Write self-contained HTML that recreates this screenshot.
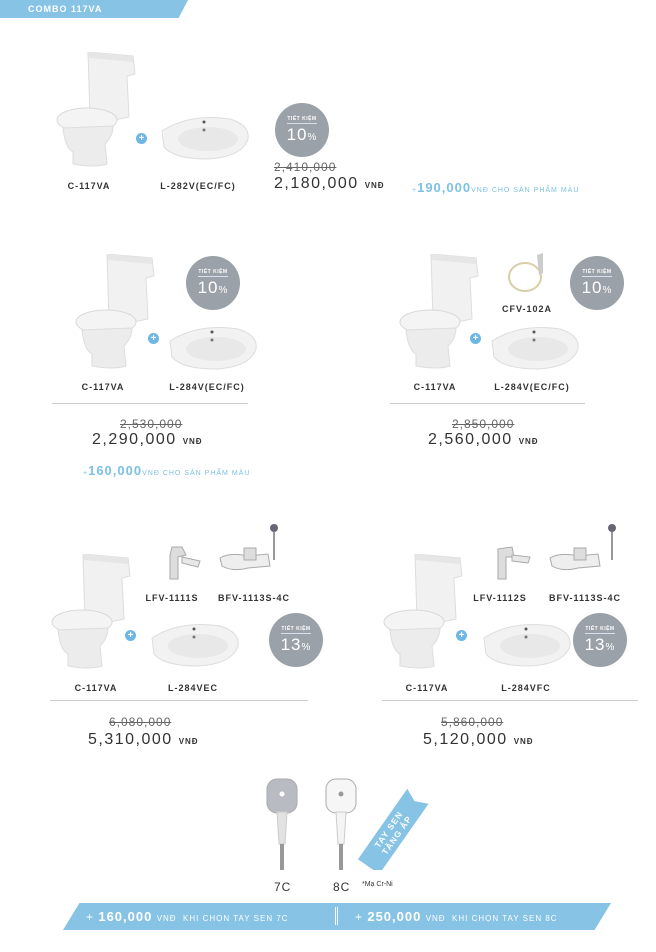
<!DOCTYPE html>
<html><head><meta charset="utf-8">
<style>
*{margin:0;padding:0;box-sizing:border-box}
body{width:656px;height:952px;background:#fff;position:relative;overflow:hidden;font-family:"Liberation Sans",sans-serif;color:#333}
.a{position:absolute;white-space:nowrap}
.lbl{font-size:9px;font-weight:bold;letter-spacing:1px;color:#333;transform:translateX(-50%)}
.strike{font-size:12px;color:#666;letter-spacing:1px;text-decoration:line-through}
.price{font-size:16px;letter-spacing:1.5px;color:#333}
.price small{font-size:8px;font-weight:bold;letter-spacing:1px;margin-left:6px}
.line{height:1px;background:#ccc}
.plus{width:11px;height:11px;border-radius:50%;background:#6cb7e3;color:#fff;font-size:10px;line-height:11px;text-align:center;font-weight:bold}
.badge{width:54px;height:54px;border-radius:50%;background:#9aa1a8;color:#fff;text-align:center}
.badge .t{font-size:5px;font-weight:bold;letter-spacing:.5px;margin-top:13px;border-bottom:1px solid #dde;display:inline-block;padding-bottom:1px}
.badge .p{font-size:17px;font-weight:300;letter-spacing:1px;margin-top:0px}
.badge .p span{font-size:10px}
.extra{color:#7cc1e6;font-size:13px;letter-spacing:1px;font-weight:bold}
.extra small{font-size:7px;letter-spacing:1px;font-weight:normal}
</style></head><body>
<svg width="0" height="0" style="position:absolute">
<defs>
<g id="toilet">
<path d="M33 0 L78 4 L80 22 L72 24 L74 65 L50 70 L35 66 Z" fill="#f1f1f1" stroke="#ddd"/>
<path d="M33 0 L78 4 L78 10 L34 6 Z" fill="#e6e6e6"/>
<ellipse cx="32" cy="68" rx="30" ry="12" fill="#f4f4f4" stroke="#d9d9d9"/>
<path d="M8 76 Q10 96 18 100 L18 112 Q40 116 52 112 L50 92 Q58 84 58 74 Z" fill="#ececec" stroke="#ddd"/>
</g>
<g id="basin">
<path d="M2 18 Q30 0 70 6 Q90 12 88 26 Q82 44 48 46 Q14 46 4 34 Z" fill="#f2f2f2" stroke="#ddd"/>
<ellipse cx="48" cy="26" rx="30" ry="12" fill="#e8e8e8"/>
<circle cx="44" cy="9" r="1.5" fill="#555"/><circle cx="44" cy="17" r="1.5" fill="#777"/>
</g>
</defs>
</svg>

<div class="a" style="left:0;top:0;width:188px;height:18px;background:#86c3e5;border-bottom-right-radius:10px;clip-path:polygon(0 0,100% 0,95% 100%,0 100%)"></div>
<div class="a" style="left:28px;top:4px;color:#fff;font-size:9px;font-weight:bold;letter-spacing:1px">COMBO 117VA</div>

<!-- Section 1 -->
<svg class="a" style="left:55px;top:52px" width="82" height="116"><use href="#toilet"/></svg>
<div class="a plus" style="left:136px;top:133px">+</div>
<svg class="a" style="left:160px;top:113px" width="92" height="48"><use href="#basin"/></svg>
<div class="a lbl" style="left:89px;top:181px">C-117VA</div>
<div class="a lbl" style="left:198px;top:181px">L-282V(EC/FC)</div>
<div class="a badge" style="left:275px;top:103px"><div class="t">TIẾT KIỆM</div><div class="p">10<span>%</span></div></div>
<div class="a strike" style="left:274px;top:160px">2,410,000</div>
<div class="a price" style="left:274px;top:175px">2,180,000<small>VNĐ</small></div>
<div class="a extra" style="left:412px;top:180px"><small>+</small>190,000<small>VNĐ CHO SẢN PHẨM MÀU</small></div>

<!-- Section 2 left -->
<svg class="a" style="left:74px;top:254px" width="82" height="116"><use href="#toilet"/></svg>
<div class="a badge" style="left:186px;top:256px"><div class="t">TIẾT KIỆM</div><div class="p">10<span>%</span></div></div>
<div class="a plus" style="left:148px;top:333px">+</div>
<svg class="a" style="left:168px;top:323px" width="92" height="48"><use href="#basin"/></svg>
<div class="a lbl" style="left:103px;top:382px">C-117VA</div>
<div class="a lbl" style="left:207px;top:382px">L-284V(EC/FC)</div>
<div class="a line" style="left:52px;top:403px;width:196px"></div>
<div class="a strike" style="left:120px;top:417px">2,530,000</div>
<div class="a price" style="left:92px;top:431px">2,290,000<small>VNĐ</small></div>
<div class="a extra" style="left:83px;top:463px"><small>+</small>160,000<small>VNĐ CHO SẢN PHẨM MÀU</small></div>

<!-- Section 2 right -->
<svg class="a" style="left:398px;top:254px" width="82" height="116"><use href="#toilet"/></svg>
<svg class="a" style="left:505px;top:247px" width="50" height="50">
<ellipse cx="20" cy="30" rx="16" ry="14" fill="none" stroke="#d8cfa8" stroke-width="2"/>
<path d="M32 8 L38 6 L38 26 L34 28 Z" fill="#ccc"/></svg>
<div class="a lbl" style="left:527px;top:304px">CFV-102A</div>
<div class="a badge" style="left:570px;top:256px"><div class="t">TIẾT KIỆM</div><div class="p">10<span>%</span></div></div>
<div class="a plus" style="left:470px;top:333px">+</div>
<svg class="a" style="left:490px;top:323px" width="92" height="48"><use href="#basin"/></svg>
<div class="a lbl" style="left:435px;top:382px">C-117VA</div>
<div class="a lbl" style="left:532px;top:382px">L-284V(EC/FC)</div>
<div class="a line" style="left:390px;top:403px;width:195px"></div>
<div class="a strike" style="left:452px;top:417px">2,850,000</div>
<div class="a price" style="left:428px;top:431px">2,560,000<small>VNĐ</small></div>

<!-- Section 3 left -->
<svg class="a" style="left:50px;top:554px" width="82" height="116"><use href="#toilet"/></svg>
<svg class="a" style="left:160px;top:545px" width="42" height="36">
<path d="M12 2 L22 2 L26 10 L18 12 L18 34 L10 34 L10 10 Z" fill="#ddd" stroke="#aaa"/><path d="M22 12 L40 16 L38 22 L22 18 Z" fill="#e8e8e8" stroke="#aaa"/></svg>
<div class="a lbl" style="left:172px;top:593px">LFV-1111S</div>
<svg class="a" style="left:218px;top:522px" width="74" height="60">
<path d="M2 36 Q12 30 30 34 L50 32 L52 44 L30 46 Q14 50 4 44 Z" fill="#eee" stroke="#aaa"/>
<rect x="26" y="26" width="12" height="12" fill="#ddd" stroke="#aaa"/>
<line x1="56" y1="10" x2="56" y2="38" stroke="#999" stroke-width="2"/><circle cx="56" cy="6" r="4" fill="#667"/></svg>
<div class="a lbl" style="left:254px;top:593px">BFV-1113S-4C</div>
<div class="a plus" style="left:125px;top:630px">+</div>
<svg class="a" style="left:150px;top:620px" width="92" height="48"><use href="#basin"/></svg>
<div class="a badge" style="left:269px;top:613px"><div class="t">TIẾT KIỆM</div><div class="p">13<span>%</span></div></div>
<div class="a lbl" style="left:96px;top:683px">C-117VA</div>
<div class="a lbl" style="left:193px;top:683px">L-284VEC</div>
<div class="a line" style="left:50px;top:700px;width:258px"></div>
<div class="a strike" style="left:109px;top:715px">6,080,000</div>
<div class="a price" style="left:88px;top:731px">5,310,000<small>VNĐ</small></div>

<!-- Section 3 right -->
<svg class="a" style="left:382px;top:554px" width="82" height="116"><use href="#toilet"/></svg>
<svg class="a" style="left:492px;top:545px" width="42" height="36">
<path d="M6 4 L20 2 L22 12 L14 12 L14 34 L6 34 Z" fill="#ddd" stroke="#aaa"/><path d="M20 10 L38 12 L36 18 L20 16 Z" fill="#e8e8e8" stroke="#aaa"/></svg>
<div class="a lbl" style="left:500px;top:593px">LFV-1112S</div>
<svg class="a" style="left:548px;top:522px" width="74" height="60">
<path d="M2 36 Q12 30 30 34 L50 32 L52 44 L30 46 Q14 50 4 44 Z" fill="#eee" stroke="#aaa"/>
<rect x="26" y="26" width="12" height="12" fill="#ddd" stroke="#aaa"/>
<line x1="64" y1="10" x2="64" y2="38" stroke="#999" stroke-width="2"/><circle cx="64" cy="6" r="4" fill="#667"/></svg>
<div class="a lbl" style="left:585px;top:593px">BFV-1113S-4C</div>
<div class="a plus" style="left:456px;top:630px">+</div>
<svg class="a" style="left:482px;top:620px" width="92" height="48"><use href="#basin"/></svg>
<div class="a badge" style="left:573px;top:613px"><div class="t">TIẾT KIỆM</div><div class="p">13<span>%</span></div></div>
<div class="a lbl" style="left:427px;top:683px">C-117VA</div>
<div class="a lbl" style="left:526px;top:683px">L-284VFC</div>
<div class="a line" style="left:382px;top:700px;width:256px"></div>
<div class="a strike" style="left:441px;top:715px">5,860,000</div>
<div class="a price" style="left:423px;top:731px">5,120,000<small>VNĐ</small></div>

<!-- Hand showers -->
<svg class="a" style="left:266px;top:778px" width="34" height="94">
<rect x="1" y="1" width="30" height="34" rx="10" fill="#b8bcc2" stroke="#aaa"/><circle cx="16" cy="16" r="2.5" fill="#fff"/>
<path d="M11 34 L21 34 L19 66 L13 66 Z" fill="#e2e2e2" stroke="#ccc"/><rect x="14" y="66" width="4" height="26" fill="#999"/></svg>
<svg class="a" style="left:325px;top:778px" width="34" height="94">
<rect x="1" y="1" width="30" height="34" rx="10" fill="#f6f6f6" stroke="#aaa"/><circle cx="16" cy="16" r="2.5" fill="#999"/>
<path d="M11 34 L21 34 L19 66 L13 66 Z" fill="#f4f4f4" stroke="#ccc"/><rect x="14" y="66" width="4" height="26" fill="#999"/></svg>
<svg class="a" style="left:355px;top:788px" width="80" height="82">
<g transform="translate(40,41) rotate(-55)">
<polygon points="-46,-13 40,-13 34,0 40,13 -46,13" fill="#86c3e5"/>
<text x="-4" y="-2" text-anchor="middle" fill="#fff" font-family="Liberation Sans" font-size="8.5" font-weight="bold" letter-spacing="1">TAY SEN</text>
<text x="-4" y="8" text-anchor="middle" fill="#fff" font-family="Liberation Sans" font-size="8.5" font-weight="bold" letter-spacing="1">TĂNG ÁP</text>
</g></svg>
<div class="a" style="left:274px;top:880px;font-size:12px;letter-spacing:1px">7C</div>
<div class="a" style="left:333px;top:880px;font-size:12px;letter-spacing:1px">8C</div>
<div class="a" style="left:362px;top:881px;font-size:7px">*Mạ Cr-Ni</div>

<!-- Bottom bar -->
<div class="a" style="left:63px;top:903px;width:548px;height:27px;background:#86c3e5;clip-path:polygon(3% 0,100% 0,97% 100%,0 100%)"></div>
<div class="a" style="left:86px;top:909px;color:#fff;font-size:12px;letter-spacing:1px"><span style="font-weight:normal">+ </span><b style="font-size:13px">160,000</b> <span style="font-size:8px">VNĐ &nbsp;KHI CHỌN TAY SEN 7C</span></div>
<div class="a" style="left:335px;top:907px;width:3px;height:18px;border-left:1px solid #fff;border-right:1px solid #fff"></div>
<div class="a" style="left:355px;top:909px;color:#fff;font-size:12px;letter-spacing:1px"><span>+ </span><b style="font-size:13px">250,000</b> <span style="font-size:8px">VNĐ &nbsp;KHI CHỌN TAY SEN 8C</span></div>
</body></html>
